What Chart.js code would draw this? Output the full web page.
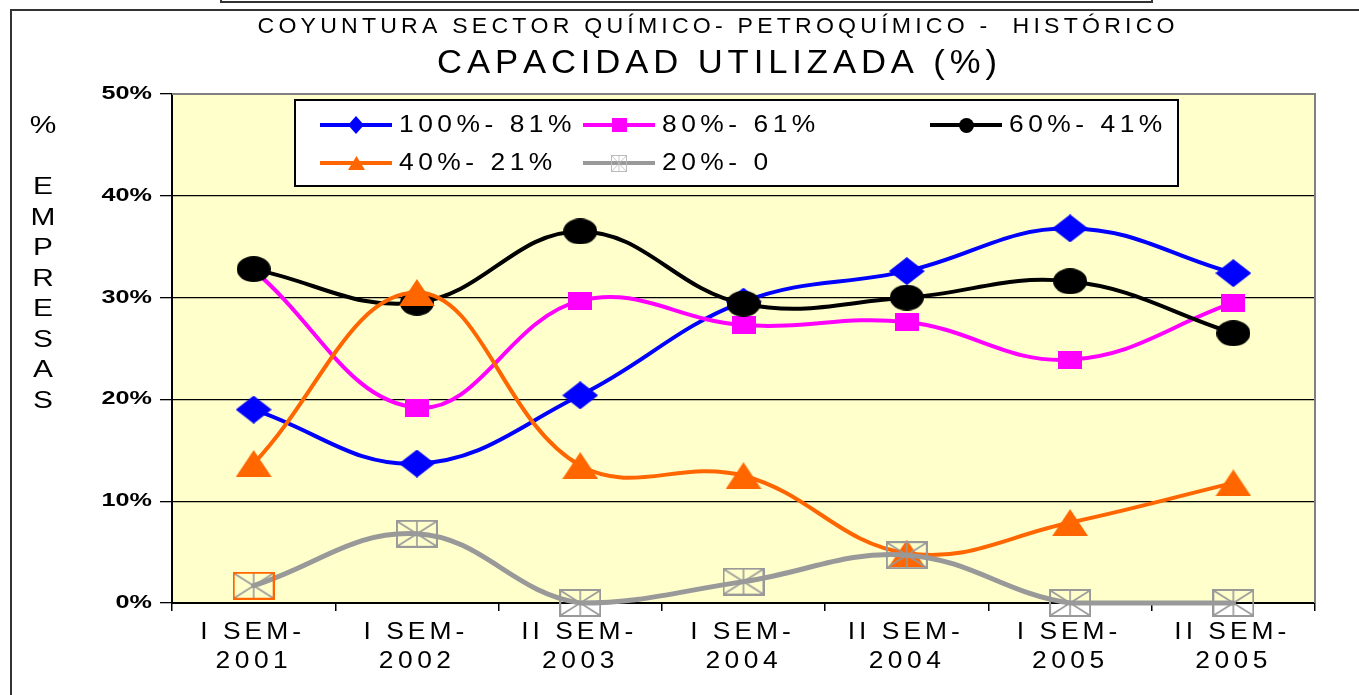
<!DOCTYPE html>
<html><head><meta charset="utf-8">
<script src="https://cdn.jsdelivr.net/npm/chart.js@4.4.0/dist/chart.umd.min.js"></script>
<style>html,body{margin:0;padding:0;background:#fff;}#wrap{width:1359px;height:695px;}</style>
</head><body><div id="wrap"><canvas id="c" width="1359" height="695"></canvas></div>
<script>
// ---- data ----
const categories = [['I SEM-','2001'],['I SEM-','2002'],['II SEM-','2003'],['I SEM-','2004'],['II SEM-','2004'],['I SEM-','2005'],['II SEM-','2005']];
const seriesLabels = ['100%- 81%','80%- 61%','60%- 41%','40%- 21%','20%- 0'];
const s100_81 = [19.0, 13.7, 20.4, 29.6, 32.6, 36.8, 32.4];
const s80_61  = [32.7, 19.2, 29.7, 27.3, 27.6, 23.9, 29.5];
const s60_41  = [32.8, 29.5, 36.5, 29.4, 30.0, 31.6, 26.5];
const s40_21  = [13.7, 30.5, 13.5, 12.5, 4.9, 7.9, 11.8];
const s20_0   = [1.7, 6.8, 0, 2.1, 4.7, 0, 0];
const yTicks = [0, 10, 20, 30, 40, 50];
const yTitle = ['%','','E','M','P','R','E','S','A','S'];
const subTitle = 'COYUNTURA SECTOR QUÍMICO- PETROQUÍMICO -  HISTÓRICO';
const mainTitle = 'CAPACIDAD UTILIZADA (%)';

const FONT = "'Liberation Sans', Arial, sans-serif";
const colors = ['#0000FF','#FF00FF','#000000','#FF6600','#999999'];

// ---- marker images ----
function mk(w,h,fn){const c=document.createElement('canvas');c.width=w;c.height=h;const g=c.getContext('2d');fn(g,w,h);return c;}
function diamond(w,h,col){return mk(w,h,(g)=>{g.fillStyle=col;g.beginPath();g.moveTo(w/2,0);g.lineTo(w,h/2);g.lineTo(w/2,h);g.lineTo(0,h/2);g.closePath();g.fill();});}
function square(w,h,col){return mk(w,h,(g)=>{g.fillStyle=col;g.fillRect(0,0,w,h);});}
function ellipse(w,h,col){return mk(w,h,(g)=>{g.fillStyle=col;g.beginPath();g.ellipse(w/2,h/2,w/2,h/2,0,0,Math.PI*2);g.fill();});}
function triangle(w,h,col){return mk(w,h,(g)=>{g.fillStyle=col;g.beginPath();g.moveTo(w/2,0);g.lineTo(w,h);g.lineTo(0,h);g.closePath();g.fill();});}
function boxStar(w,h,edge,inner,lw){return mk(w,h,(g)=>{g.strokeStyle=inner;g.lineWidth=lw*0.8;g.beginPath();g.moveTo(lw,lw);g.lineTo(w-lw,h-lw);g.moveTo(w-lw,lw);g.lineTo(lw,h-lw);g.moveTo(w/2,lw);g.lineTo(w/2,h-lw);g.stroke();g.strokeStyle=edge;g.lineWidth=lw;g.strokeRect(lw/2,lw/2,w-lw,h-lw);});}

const mBlue = diamond(36,28,colors[0]);
const mMag = square(24,18,colors[1]);
const mBlack = ellipse(34,26,colors[2]);
const mOrange = triangle(36,27,colors[3]);
const mGray = boxStar(42,28,'#999999','#999999',2);
const mGrayOr = boxStar(42,28,'#FF6600','#999999',2);
const legendMarkers = [diamond(16,18,colors[0]), square(15,14,colors[1]), ellipse(15,15,colors[2]), triangle(17,14,colors[3]), boxStar(16,17,'#bbbbbb','#bbbbbb',1)];

// ---- text helper ----
function drawSpaced(ctx, text, x, cy, font, sx, opt){
  ctx.save();
  ctx.font = font; ctx.fillStyle = opt.color || '#000'; ctx.textBaseline = 'middle'; ctx.textAlign = 'left';
  const chars = [...text];
  const ws = chars.map(ch => ctx.measureText(ch).width * sx);
  const nat = ws.reduce((a,b)=>a+b,0);
  let sp = opt.sp || 0;
  if (opt.width != null && chars.length > 1) sp = (opt.width - nat) / (chars.length - 1);
  const total = nat + sp * (chars.length - 1);
  let cx = opt.align === 'right' ? x - total : (opt.align === 'left' ? x : x - total/2);
  chars.forEach((ch,i)=>{ctx.save();ctx.translate(cx,cy);ctx.scale(sx,1);ctx.fillText(ch,0,0);ctx.restore();cx += ws[i] + sp;});
  ctx.restore();
}

const bgPlugin = {
  id:'bg',
  beforeDraw(chart){
    const {ctx, chartArea:a} = chart;
    ctx.save();
    ctx.fillStyle='#fff'; ctx.fillRect(0,0,chart.width,chart.height);
    ctx.strokeStyle='#333'; ctx.lineWidth=2;
    ctx.strokeRect(221,-10,931,12);
    ctx.strokeRect(11,10,1400,800);
    ctx.fillStyle='#FFFFCC'; ctx.fillRect(a.left,a.top,a.right-a.left,a.bottom-a.top);
    ctx.restore();
  },
  beforeDatasetsDraw(chart){
    const {ctx, chartArea:a} = chart;
    ctx.save(); ctx.strokeStyle='#808080'; ctx.lineWidth=2;
    ctx.beginPath(); ctx.moveTo(a.left,a.top); ctx.lineTo(a.right,a.top); ctx.lineTo(a.right,a.bottom); ctx.stroke();
    ctx.restore();
  },
  afterDatasetsDraw(chart){
    const {ctx} = chart;
    ctx.save();
    ctx.fillStyle='#fff'; ctx.fillRect(295,100,883,86);
    ctx.strokeStyle='#000'; ctx.lineWidth=2; ctx.strokeRect(295,100,883,86);
    const pos=[[320,125],[583,125],[930,125],[320,163],[583,163]];
    chart.data.datasets.forEach((ds,i)=>{
      const [x,y]=pos[i];
      ctx.strokeStyle=ds.borderColor; ctx.lineWidth=4; ctx.lineCap='butt';
      ctx.beginPath(); ctx.moveTo(x,y); ctx.lineTo(x+72,y); ctx.stroke();
      const m=legendMarkers[i]; ctx.drawImage(m, Math.round(x+36-m.width/2), Math.round(y-m.height/2));
      drawSpaced(ctx, ds.label, x+79, y, '24px '+FONT, 1.1, {sp:4.5, align:'left'});
    });
    ctx.restore();
  },
  afterDraw(chart){
    const {ctx} = chart;
    drawSpaced(ctx, subTitle, 716, 27, '22px '+FONT, 1.05, {width:917});
    drawSpaced(ctx, mainTitle, 717, 64, '33px '+FONT, 1.05, {width:560});
    yTitle.forEach((ch,i)=>{ if(ch) drawSpaced(ctx, ch, 43, 127+30.5*i, '23px '+FONT, 1.3, {}); });
    const ys = chart.scales.y;
    ys.ticks.forEach((t)=>{ drawSpaced(ctx, t.value+'%', 152, ys.getPixelForValue(t.value), 'bold 18px '+FONT, 1.4, {align:'right'}); });
    const xs = chart.scales.x;
    categories.forEach((c,i)=>{
      const px = xs.getPixelForValue(i);
      drawSpaced(ctx, c[0], px-3, 632, '24px '+FONT, 1.1, {sp:4});
      drawSpaced(ctx, c[1], px-2, 661, '24px '+FONT, 1.1, {sp:4.5});
    });
  }
};

function ds(label, data, color, style, order, width){
  return {label, data, borderColor:color, backgroundColor:color, borderWidth:width||4, tension:0.4,
    pointStyle:style, pointRadius:12, pointHoverRadius:12, order, clip:false,
    borderJoinStyle:'round', borderCapStyle:'round'};
}

new Chart(document.getElementById('c'), {
  type:'line',
  data:{
    labels: categories.map(c=>c.join(' ')),
    datasets:[
      ds(seriesLabels[0], s100_81, colors[0], mBlue, 5),
      ds(seriesLabels[1], s80_61, colors[1], mMag, 4),
      ds(seriesLabels[2], s60_41, colors[2], mBlack, 3),
      ds(seriesLabels[3], s40_21, colors[3], mOrange, 2),
      ds(seriesLabels[4], s20_0, colors[4], s20_0.map((v,i)=> i===0 ? mGrayOr : mGray), 1, 5)
    ]
  },
  options:{
    responsive:false, animation:false, events:[],
    layout:{padding:{left:172, top:94, right:44, bottom:92}},
    plugins:{legend:{display:false}, title:{display:false}, tooltip:{enabled:false}},
    scales:{
      x:{type:'category', offset:true,
        grid:{offset:true, display:true, drawOnChartArea:false, drawTicks:true, tickLength:8, color:'#000', lineWidth:1.5},
        border:{display:true, color:'#000', width:2},
        ticks:{display:false}, afterFit:(s)=>{s.height=0;}},
      y:{min:yTicks[0], max:yTicks[yTicks.length-1],
        afterBuildTicks:(s)=>{s.ticks = yTicks.map(v=>({value:v}));},
        ticks:{display:false},
        grid:{color:(c)=> (c.tick && (c.tick.value===0 || c.tick.value===50)) ? 'rgba(0,0,0,0)' : '#000', tickColor:'#000', tickLength:12, lineWidth:1.3},
        border:{display:true, color:'#000', width:2},
        afterFit:(s)=>{s.width=0;}}
    }
  },
  plugins:[bgPlugin]
});
</script></body></html>
